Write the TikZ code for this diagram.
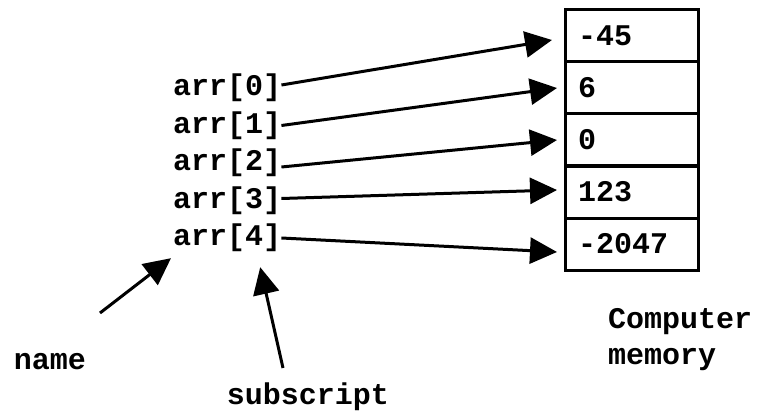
\documentclass[tikz,border=0pt]{standalone}
\usepackage{fontspec}
\setmonofont{Liberation Mono}
\usetikzlibrary{arrows.meta,positioning}

\tikzset{
  lbl/.style={font=\ttfamily\bfseries\fontsize{30}{36}\selectfont, inner sep=0pt},
  cell/.style={draw, line width=3pt, outer sep=0pt, minimum height=52pt,
    text width=107pt, inner xsep=13pt, inner ysep=0pt, align=left,
    font=\ttfamily\bfseries\fontsize{30}{32}\selectfont},
  ptr/.style={line width=3pt, -{Triangle[length=27pt,width=26pt]}}
}

\begin{document}
\begin{tikzpicture}[x=1pt,y=-1pt]
  \useasboundingbox (0,0) rectangle (763,417);
  % Memory cells
  \node[cell] (m0) at (631.5,36) {-45};
  \node[cell, below=0pt of m0] (m1) {6};
  \node[cell, below=0pt of m1] (m2) {0};
  \node[cell, below=0pt of m2] (m3) {123};
  \node[cell, below=0pt of m3] (m4) {-2047};
  % Array elements
  \node[lbl, anchor=west] (a0) at (173,88) {arr[0]};
  \node[lbl, anchor=west] (a1) at (173,125.5) {arr[1]};
  \node[lbl, anchor=west] (a2) at (173,163) {arr[2]};
  \node[lbl, anchor=west] (a3) at (173,200.5) {arr[3]};
  \node[lbl, anchor=west] (a4) at (173,238) {arr[4]};
  % Pointers into memory
  \draw[ptr] ([yshift=3pt]a0.east) -- ([xshift=-13pt,yshift=-4pt]m0.west);
  \draw[ptr] (a1.east) -- ([xshift=-8pt]m1.west);
  \draw[ptr] ([yshift=-4pt]a2.east) -- ([xshift=-8pt]m2.west);
  \draw[ptr] ([yshift=2pt]a3.east) -- ([xshift=-8pt,yshift=2pt]m3.west);
  \draw[ptr] (a4.east) -- ([xshift=-8pt,yshift=-8pt]m4.west);
  % Labels
  \node[lbl] (nm) at (50,362) {name};
  \node[lbl] (sub) at (308,397) {subscript};
  \node[lbl, align=left, anchor=west] (mem) at (608,340) {Computer\\memory};
  \coordinate (nmtail) at (100,313);
  \coordinate (subtail) at (283,368);
  \draw[ptr] (nmtail) -- ([xshift=-2pt,yshift=-6pt]a4.south west);
  \draw[ptr] (subtail) -- ([xshift=33pt,yshift=-15pt]a4.south);
\end{tikzpicture}
\end{document}
